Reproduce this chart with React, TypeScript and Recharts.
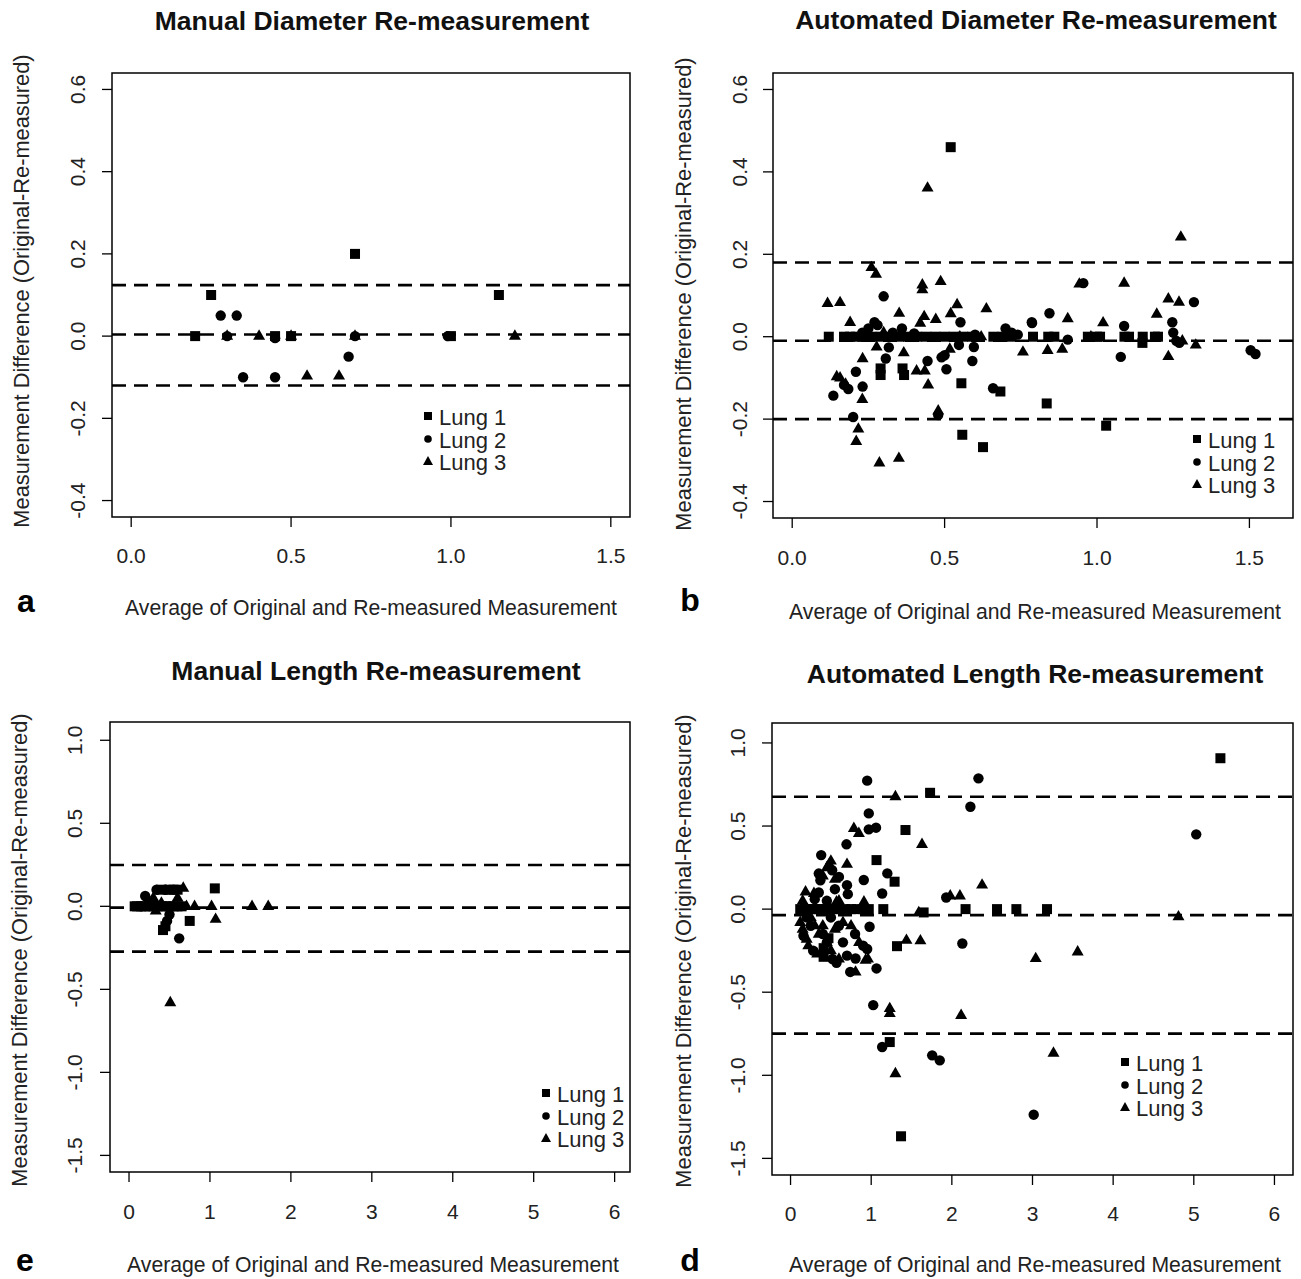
import React from 'react';
import { ScatterChart, Scatter, XAxis, YAxis, ReferenceLine, ReferenceArea } from 'recharts';

const FONT = '"Liberation Sans", Arial, Helvetica, sans-serif';

type P = [number, number];

// ---------- Panel a: Manual Diameter ----------
const manDiamLung1: P[] = [[0.2, 0], [0.25, 0.1], [0.45, 0], [0.5, 0], [0.7, 0.2], [1.0, 0], [1.15, 0.1]];
const manDiamLung2: P[] = [[0.28, 0.05], [0.33, 0.05], [0.3, 0], [0.35, -0.1], [0.45, -0.1], [0.45, -0.005], [0.68, -0.05], [0.7, 0], [0.99, 0]];
const manDiamLung3: P[] = [[0.3, 0], [0.4, 0], [0.5, 0], [0.55, -0.097], [0.65, -0.097], [0.7, 0], [1.2, 0]];
const manDiamLimits = [0.124, 0.004, -0.12];

// ---------- Panel b: Automated Diameter ----------
const autoDiamLung1: P[] = [
  [0.52, 0.46],
  [0.12, 0], [0.17, 0], [0.19, 0], [0.21, 0], [0.23, 0], [0.26, 0], [0.29, 0], [0.32, 0], [0.35, 0], [0.38, 0],
  [0.41, 0], [0.44, 0], [0.47, 0], [0.5, 0], [0.53, 0], [0.56, 0], [0.59, 0], [0.66, 0], [0.69, 0], [0.72, 0],
  [0.79, 0], [0.84, 0], [0.86, 0], [0.97, 0], [1.0, 0], [1.01, 0], [1.09, 0], [1.105, 0], [1.15, 0], [1.19, 0], [1.2, 0],
  [0.29, -0.077], [0.29, -0.093], [0.362, -0.077], [0.367, -0.093], [0.555, -0.113], [0.683, -0.133],
  [0.558, -0.238], [0.626, -0.268], [0.835, -0.162], [1.03, -0.216], [1.149, -0.015],
];
const autoDiamLung2: P[] = [
  [0.3, 0.098], [0.552, 0.035], [0.27, 0.035], [0.28, 0.028], [0.786, 0.035], [0.317, -0.026], [0.307, -0.053],
  [0.596, -0.025], [0.547, -0.02], [0.444, -0.059], [0.49, -0.05], [0.5, -0.045], [0.591, -0.059], [0.506, -0.079],
  [0.209, -0.085], [0.135, -0.143], [0.231, -0.121], [0.17, -0.117], [0.184, -0.127], [0.659, -0.125], [0.2, -0.195],
  [0.479, -0.19], [0.844, 0.057], [0.787, 0.033], [1.089, 0.026], [1.247, 0.035], [1.25, 0.01], [0.904, -0.007],
  [1.078, -0.049], [1.26, -0.01], [1.27, -0.015], [1.504, -0.033], [1.52, -0.042], [0.955, 0.13], [1.318, 0.084],
  [0.23, 0.01], [0.33, 0.01], [0.4, 0.008], [0.6, 0.005], [0.72, 0.01], [0.74, 0.005], [0.36, 0.02], [0.25, 0.02], [0.7, 0.02],
];
const autoDiamLung3: P[] = [
  [0.444, 0.361], [0.26, 0.168], [0.275, 0.152], [0.427, 0.126], [0.427, 0.114], [0.487, 0.134], [0.116, 0.081],
  [0.157, 0.083], [0.541, 0.078], [0.637, 0.068], [0.351, 0.057], [0.433, 0.049], [0.471, 0.042], [0.52, 0.056],
  [0.19, 0.035], [0.42, 0.033], [0.277, -0.025], [0.366, -0.039], [0.231, -0.053], [0.517, -0.03], [0.757, -0.037],
  [0.408, -0.083], [0.435, -0.083], [0.146, -0.097], [0.157, -0.1], [0.175, -0.115], [0.446, -0.117], [0.23, -0.152],
  [0.479, -0.18], [0.217, -0.224], [0.21, -0.254], [0.286, -0.306], [0.35, -0.295], [1.275, 0.242], [0.942, 0.128],
  [1.089, 0.13], [1.234, 0.092], [1.269, 0.084], [0.904, 0.044], [1.196, 0.055], [1.02, 0.034], [0.838, -0.033],
  [0.886, -0.03], [1.234, -0.048], [1.324, -0.02], [0.3, 0.01], [0.55, 0.0], [0.62, 0.0], [1.28, -0.01], [0.98, 0.0],
];
const autoDiamLimits = [0.18, -0.01, -0.2];

// ---------- Panel e: Manual Length ----------
const manLenLung1: P[] = [
  [1.06, 0.108], [0.75, -0.088], [0.42, -0.143], [0.45, -0.12], [0.4, 0.1], [0.5, 0.1], [0.55, 0.1], [0.6, 0.1],
  [0.07, 0], [0.1, 0], [0.15, 0], [0.2, 0], [0.25, 0], [0.3, 0], [0.35, 0], [0.4, 0], [0.45, 0], [0.5, 0], [0.55, 0], [0.6, 0], [0.65, 0],
];
const manLenLung2: P[] = [[0.34, 0.1], [0.2, 0.062], [0.47, -0.088], [0.62, -0.193], [0.3, 0.02], [0.45, 0.1], [0.25, 0.03], [0.5, -0.05], [0.15, 0.0]];
const manLenLung3: P[] = [
  [0.51, -0.58], [0.67, 0.11], [0.71, 0], [0.81, 0], [1.02, 0], [1.52, 0], [1.72, 0], [0.33, -0.028], [1.07, -0.078],
  [0.3, 0.05], [0.55, 0], [0.4, 0.02], [0.6, 0.05], [0.2, 0.0],
];
const manLenLimits = [0.249, -0.008, -0.273];

// ---------- Panel d: Automated Length ----------
const autoLenLung1: P[] = [
  [5.33, 0.908], [2.17, 0], [2.56, 0], [2.8, 0], [3.18, 0], [1.73, 0.7], [1.425, 0.476], [1.066, 0.295], [1.29, 0.165],
  [1.15, 0], [1.65, -0.02], [1.32, -0.223], [1.23, -0.8], [1.37, -1.367], [0.41, -0.287], [0.41, -0.235], [0.47, -0.175],
  [0.12, 0], [0.18, 0], [0.25, 0], [0.3, 0], [0.35, 0], [0.42, 0], [0.48, 0], [0.55, 0], [0.6, 0], [0.68, 0],
  [0.75, 0], [0.82, 0], [0.9, 0], [0.97, 0],
];
const autoLenLung2: P[] = [
  [0.95, 0.773], [0.97, 0.576], [0.97, 0.48], [1.06, 0.49], [0.694, 0.39], [0.38, 0.325], [0.35, 0.214], [0.37, 0.174],
  [0.516, 0.234], [0.6, 0.194], [0.7, 0.144], [0.908, 0.175], [1.2, 0.215], [1.136, 0.094], [0.71, 0.09], [1.93, 0.07],
  [2.33, 0.787], [2.23, 0.616], [5.03, 0.45], [2.13, -0.207], [3.015, -1.237], [0.98, -0.106], [0.57, -0.323],
  [0.74, -0.378], [0.806, -0.297], [1.066, -0.357], [1.025, -0.578], [1.136, -0.83], [1.756, -0.88], [1.85, -0.91],
  [0.3, 0.06], [0.45, 0.05], [0.5, -0.05], [0.6, -0.1], [0.25, -0.1], [0.4, -0.15], [0.65, -0.2], [0.8, -0.15],
  [0.9, -0.22], [0.2, -0.05], [0.35, 0.1], [0.55, 0.12], [0.45, -0.2], [0.7, -0.28], [0.95, -0.24],
  [0.16, -0.16], [0.28, -0.25], [0.52, -0.3],
];
const autoLenLung3: P[] = [
  [1.3, 0.677], [0.785, 0.486], [0.847, 0.456], [1.63, 0.39], [0.5, 0.29], [0.48, 0.27], [0.7, 0.27], [0.186, 0.104],
  [0.29, 0.095], [0.57, 0.044], [0.91, 0.044], [1.59, -0.02], [1.437, -0.187], [1.61, -0.19], [0.93, -0.307],
  [0.806, -0.378], [1.23, -0.598], [1.23, -0.628], [1.3, -0.99], [2.375, 0.145], [1.98, 0.08], [2.1, 0.08],
  [4.81, -0.046], [3.04, -0.297], [3.56, -0.257], [2.115, -0.639], [3.26, -0.866],
  [0.15, 0.05], [0.2, 0.0], [0.25, -0.05], [0.3, -0.1], [0.35, -0.15], [0.45, -0.2], [0.5, -0.25], [0.55, -0.12],
  [0.65, -0.08], [0.75, -0.1], [0.85, -0.2], [0.6, -0.3], [0.4, 0.2], [0.45, 0.25], [0.55, 0.18], [0.6, 0.05],
  [0.5, 0.0], [0.15, -0.12], [0.2, -0.18], [0.9, 0.0], [0.96, -0.3],
  [0.12, -0.08], [0.22, -0.22], [0.33, -0.27], [0.4, -0.1],
];
const autoLenLimits = [0.676, -0.036, -0.749];

const diamXTicks = [0, 0.5, 1, 1.5];
const diamYTicks = [-0.4, -0.2, 0, 0.2, 0.4, 0.6];
const lenXTicks = [0, 1, 2, 3, 4, 5, 6];
const lenYTicks = [-1.5, -1.0, -0.5, 0, 0.5, 1.0];

const seriesNames = ['Lung 1', 'Lung 2', 'Lung 3'];
const xLabel = 'Average of Original and Re-measured Measurement';
const yLabel = 'Measurement Difference (Original-Re-measured)';

const toObj = (arr: P[]) => arr.map(([x, y]) => ({ x, y }));

// ---------- marker shapes ----------
const SquareShape = (p: any) =>
  p.cx == null ? null : <rect x={p.cx - 5} y={p.cy - 5} width={10} height={10} fill="#000" />;
const CircleShape = (p: any) =>
  p.cx == null ? null : <circle cx={p.cx} cy={p.cy} r={5.2} fill="#000" />;
const TriangleShape = (p: any) =>
  p.cx == null ? null : (
    <polygon points={`${p.cx},${p.cy - 6.8} ${p.cx - 6},${p.cy + 3.6} ${p.cx + 6},${p.cy + 3.6}`} fill="#000" />
  );

const TICK_SIZE = 10;
const TICK_FONT = 21;

type Cfg = {
  left: number; top: number; w: number; h: number;
  margin: { top: number; right: number; bottom: number; left: number };
  xDomain: [number, number]; yDomain: [number, number];
  xTicks: number[]; yTicks: number[]; xDec: number; yDec: number;
  xLabelDist: number; yLabelDist: number;
  lungs: P[][]; limits: number[];
};

function Panel({ cfg }: { cfg: Cfg }) {
  const XTick = (p: any) => (
    <text x={p.x} y={p.y - TICK_SIZE + cfg.xLabelDist + 7.5} textAnchor="middle" fontSize={TICK_FONT} fontFamily={FONT} fill="#222">
      {Number(p.payload.value).toFixed(cfg.xDec)}
    </text>
  );
  const YTick = (p: any) => {
    const bx = p.x + TICK_SIZE - cfg.yLabelDist + 7.5;
    return (
      <text x={bx} y={p.y} transform={`rotate(-90, ${bx}, ${p.y})`} textAnchor="middle" fontSize={TICK_FONT} fontFamily={FONT} fill="#222">
        {Number(p.payload.value).toFixed(cfg.yDec)}
      </text>
    );
  };
  const shapes = [SquareShape, CircleShape, TriangleShape];
  return (
    <div style={{ position: 'absolute', left: cfg.left, top: cfg.top }}>
      <ScatterChart width={cfg.w} height={cfg.h} margin={cfg.margin}>
        <XAxis
          type="number" dataKey="x" domain={cfg.xDomain} ticks={cfg.xTicks} interval={0}
          allowDataOverflow height={60} axisLine={false} tickSize={TICK_SIZE} tickMargin={0}
          tickLine={{ stroke: '#000', strokeWidth: 1.3 }} tick={XTick}
        />
        <YAxis
          type="number" dataKey="y" domain={cfg.yDomain} ticks={cfg.yTicks} interval={0}
          allowDataOverflow width={60} axisLine={false} tickSize={TICK_SIZE} tickMargin={0}
          tickLine={{ stroke: '#000', strokeWidth: 1.3 }} tick={YTick}
        />
        <ReferenceArea
          x1={cfg.xDomain[0]} x2={cfg.xDomain[1]} y1={cfg.yDomain[0]} y2={cfg.yDomain[1]}
          fill="none" fillOpacity={0} stroke="#000" strokeWidth={1.5} ifOverflow="visible"
        />
        {cfg.limits.map((v, i) => (
          <ReferenceLine key={i} y={v} stroke="#000" strokeWidth={2.6} strokeDasharray="14 8" />
        ))}
        {cfg.lungs.map((d, i) => (
          <Scatter key={i} name={seriesNames[i]} data={toObj(d)} shape={shapes[i]} isAnimationActive={false} />
        ))}
      </ScatterChart>
    </div>
  );
}

const panels: Cfg[] = [
  {
    left: 0, top: 0, w: 650, h: 640,
    margin: { top: 73, right: 20, bottom: 63, left: 52 },
    xDomain: [-0.06, 1.56], yDomain: [-0.44, 0.64], xTicks: diamXTicks, yTicks: diamYTicks, xDec: 1, yDec: 1,
    xLabelDist: 38, yLabelDist: 34,
    lungs: [manDiamLung1, manDiamLung2, manDiamLung3], limits: manDiamLimits,
  },
  {
    left: 660, top: 0, w: 641, h: 640,
    margin: { top: 73, right: 8, bottom: 62, left: 53 },
    xDomain: [-0.063, 1.643], yDomain: [-0.44, 0.64], xTicks: diamXTicks, yTicks: diamYTicks, xDec: 1, yDec: 1,
    xLabelDist: 39, yLabelDist: 33,
    lungs: [autoDiamLung1, autoDiamLung2, autoDiamLung3], limits: autoDiamLimits,
  },
  {
    left: 0, top: 640, w: 650, h: 639,
    margin: { top: 82, right: 20, bottom: 47, left: 50 },
    xDomain: [-0.235, 6.19], yDomain: [-1.6, 1.11], xTicks: lenXTicks, yTicks: lenYTicks, xDec: 0, yDec: 1,
    xLabelDist: 39, yLabelDist: 35,
    lungs: [manLenLung1, manLenLung2, manLenLung3], limits: manLenLimits,
  },
  {
    left: 660, top: 640, w: 641, h: 639,
    margin: { top: 83, right: 8, bottom: 44, left: 52 },
    xDomain: [-0.23, 6.23], yDomain: [-1.6, 1.12], xTicks: lenXTicks, yTicks: lenYTicks, xDec: 0, yDec: 1,
    xLabelDist: 38, yLabelDist: 34,
    lungs: [autoLenLung1, autoLenLung2, autoLenLung3], limits: autoLenLimits,
  },
];

const titles = [
  { t: 'Manual Diameter Re-measurement', x: 372, y: 21 },
  { t: 'Automated Diameter Re-measurement', x: 1036, y: 20 },
  { t: 'Manual Length Re-measurement', x: 376, y: 671 },
  { t: 'Automated Length Re-measurement', x: 1035, y: 674 },
];
const xLabels = [{ x: 371, y: 607 }, { x: 1035, y: 611 }, { x: 373, y: 1264 }, { x: 1035, y: 1264 }];
const yLabels = [{ x: 22, y: 291 }, { x: 684, y: 294 }, { x: 20, y: 950 }, { x: 684, y: 951 }];
const letters = [{ t: 'a', x: 26, y: 604 }, { t: 'b', x: 690, y: 603 }, { t: 'e', x: 25, y: 1263 }, { t: 'd', x: 690, y: 1263 }];
const legends = [{ x: 428, y: 418 }, { x: 1197, y: 441 }, { x: 546, y: 1095 }, { x: 1125, y: 1064 }];

function CText({ x, y, text, size, bold, rotate, color }: any) {
  const lh = Math.round(size * 1.2);
  return (
    <div
      style={{
        position: 'absolute', left: x - 400, top: y - lh / 2, width: 800, height: lh,
        lineHeight: `${lh}px`, textAlign: 'center', fontSize: size, fontWeight: bold ? 'bold' : 'normal',
        fontFamily: FONT, whiteSpace: 'nowrap', color: color || '#222',
        transform: rotate ? 'rotate(-90deg)' : undefined, transformOrigin: 'center center',
      }}
    >
      {text}
    </div>
  );
}

// panel letters: tight line box so the (lowercase) glyph centre sits at y
function Letter({ x, y, text }: any) {
  return (
    <div
      style={{
        position: 'absolute', left: x - 30, top: y - 18, width: 60, height: 30, lineHeight: '30px',
        textAlign: 'center', fontSize: 32, fontWeight: 'bold', fontFamily: FONT, color: '#000', whiteSpace: 'nowrap',
      }}
    >
      {text}
    </div>
  );
}

function LegendMarker({ kind }: { kind: number }) {
  return (
    <svg width={12} height={12} style={{ position: 'absolute', left: -6, top: -6 }}>
      {kind === 0 && <rect x={2} y={2} width={8} height={8} fill="#000" />}
      {kind === 1 && <circle cx={6} cy={6} r={3.8} fill="#000" />}
      {kind === 2 && <polygon points="6,1 1,10 11,10" fill="#000" />}
    </svg>
  );
}

function LegendBox({ x, y }: { x: number; y: number }) {
  return (
    <>
      {seriesNames.map((n, i) => (
        <div key={n} style={{ position: 'absolute', left: x, top: y + i * 22.5 - 2 }}>
          <LegendMarker kind={i} />
          <div
            style={{
              position: 'absolute', left: 11, top: -12 + 2, height: 24, lineHeight: '24px', fontSize: 22,
              fontFamily: FONT, whiteSpace: 'nowrap', color: '#222',
            }}
          >
            {n}
          </div>
        </div>
      ))}
    </>
  );
}

export default function App() {
  return (
    <div style={{ position: 'absolute', left: 0, top: 0, width: 1301, height: 1279, background: '#fff', overflow: 'hidden' }}>
      {panels.map((p, i) => (
        <Panel key={i} cfg={p} />
      ))}
      {titles.map((t, i) => (
        <CText key={'t' + i} x={t.x} y={t.y} text={t.t} size={26.5} bold color="#111" />
      ))}
      {xLabels.map((t, i) => (
        <CText key={'x' + i} x={t.x} y={t.y} text={xLabel} size={21.2} />
      ))}
      {yLabels.map((t, i) => (
        <CText key={'y' + i} x={t.x} y={t.y} text={yLabel} size={21.8} rotate />
      ))}
      {letters.map((t, i) => (
        <Letter key={'l' + i} x={t.x} y={t.y} text={t.t} />
      ))}
      {legends.map((l, i) => (
        <LegendBox key={'g' + i} x={l.x} y={l.y} />
      ))}
    </div>
  );
}
